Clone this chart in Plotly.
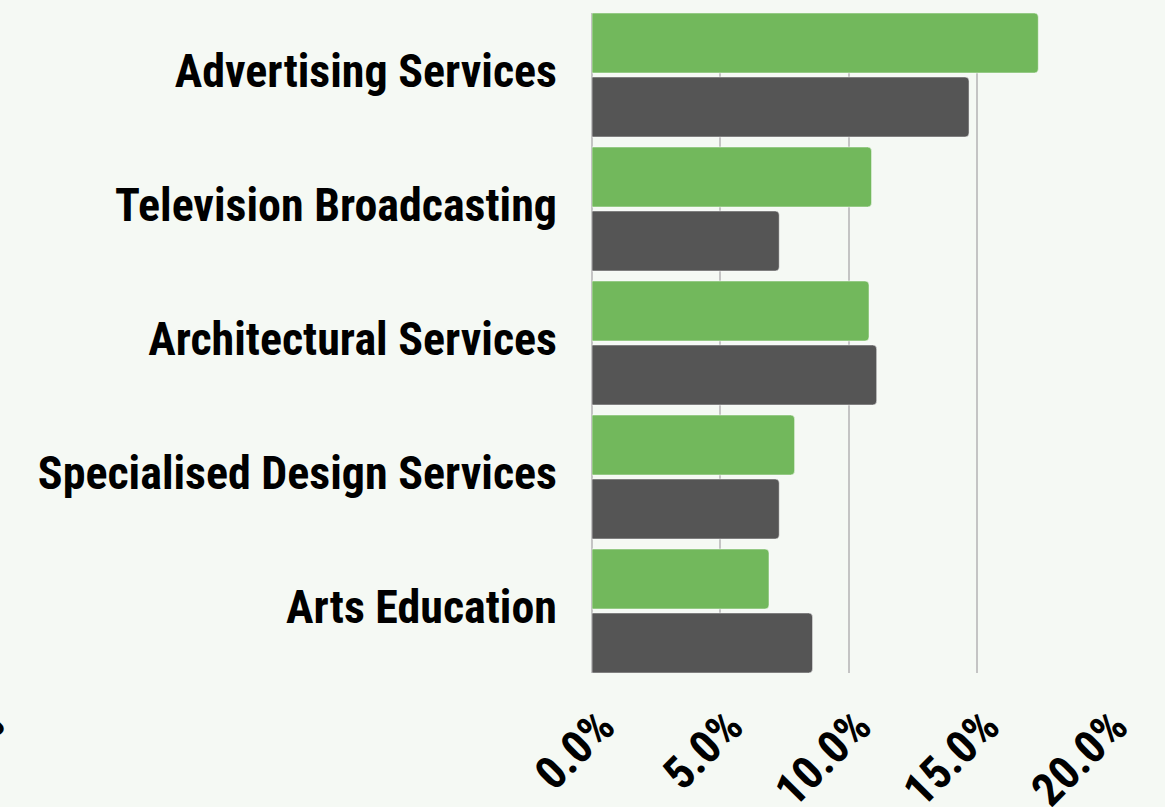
import plotly.graph_objects as go

categories = ["Advertising Services", "Television Broadcasting", "Architectural Services",
              "Specialised Design Services", "Arts Education"]
series_a = [17.4, 10.9, 10.8, 7.9, 6.9]   # green
series_b = [14.7, 7.3, 11.1, 7.3, 8.6]    # dark grey
x_ticks = [0, 5, 10, 15, 20]
x_tick_labels = ["0.0%", "5.0%", "10.0%", "15.0%", "20.0%"]

FONT = "Roboto Condensed, Roboto, sans-serif"
BG = "#f5f9f4"

fig = go.Figure()
fig.add_trace(go.Bar(y=categories, x=series_a, orientation="h", name="A",
                     marker=dict(color="#72b85c", cornerradius=4,
                                 line=dict(color="rgba(255,255,255,0.5)", width=1))))
fig.add_trace(go.Bar(y=categories, x=series_b, orientation="h", name="B",
                     marker=dict(color="#555555", cornerradius=4,
                                 line=dict(color="rgba(255,255,255,0.5)", width=1))))

fig.update_layout(
    width=1165, height=807,
    margin=dict(l=592, r=60, t=13, b=134, autoexpand=False),
    paper_bgcolor=BG, plot_bgcolor=BG,
    barmode="group", bargap=0.0448, bargroupgap=0.0625,
    showlegend=False,
    font=dict(family=FONT, color="#000000"),
)
fig.update_xaxes(range=[0, 20], tickvals=x_ticks, ticktext=x_tick_labels, automargin=False,
                 tickangle=-45, showgrid=True, gridcolor="#c4c4c4", gridwidth=1.5,
                 zeroline=True, zerolinecolor="#c4c4c4", zerolinewidth=1.5,
                 showline=False, ticks="", ticklabelstandoff=16, ticklabelshift=9,
                 tickfont=dict(family=FONT, size=46, color="#000000", weight="bold"))
fig.update_yaxes(type="category", range=[4.4627, -0.4627], showgrid=False, automargin=False,
                 zeroline=False, showline=False, ticks="", ticklabelstandoff=34,
                 ticklabelshift=4,
                 tickfont=dict(family=FONT, size=46, color="#000000", weight="bold"))

# partially visible tick label cut off at the left edge
fig.add_annotation(xref="paper", yref="paper", x=(18 - 592) / 513, y=(673 - 694) / 660,
                   xanchor="right", yanchor="top", text="0.0%", textangle=-45,
                   showarrow=False,
                   font=dict(family=FONT, size=46, color="#000000", weight="bold"))

fig.write_html("out.html",
               config={"displayModeBar": False},
               post_script="document.body.style.margin='0';"
                           "document.body.style.background='" + BG + "';"
                           "document.querySelectorAll('text').forEach(function(t){"
                           "t.style.fontStretch='condensed';});")
